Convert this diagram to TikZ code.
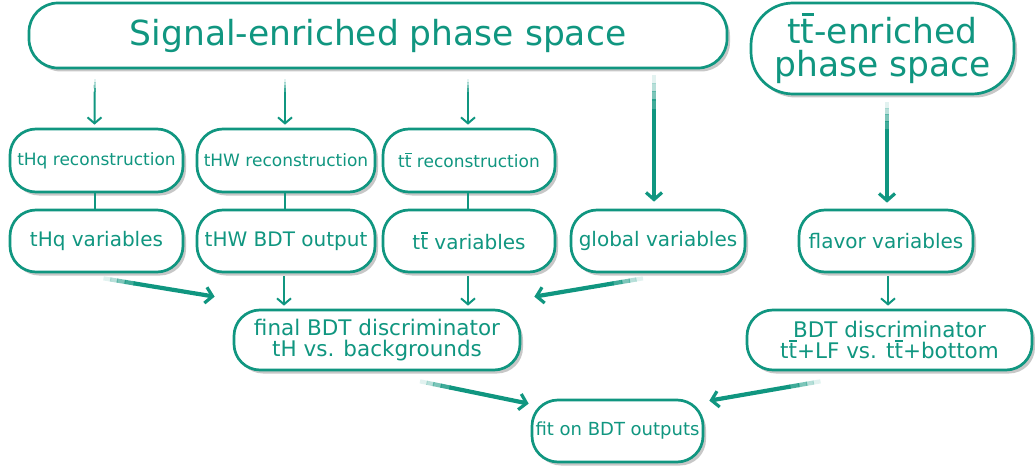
\documentclass[tikz,border=0pt]{standalone}
\usepackage{fontspec}
\setmainfont{DejaVu Sans}
\usetikzlibrary{shadows,calc,arrows.meta}
\definecolor{tc}{RGB}{16,150,128}
\newcommand{\tb}{\rlap{\hspace{0.03em}\rule[0.8em]{0.36em}{0.065em}}t}
\tikzset{
  box/.style={draw=tc, line width=2.7pt, fill=white, rounded corners=26pt, text=tc,
    align=center, inner sep=1pt,
    drop shadow={shadow xshift=3pt, shadow yshift=-3.5pt, opacity=0.4, fill=black!55}},
  fs/.style={font=\fontsize{#1}{#1}\selectfont},
  thin/.style={draw=tc, line width=2pt},
  thick/.style={draw=tc, line width=4.2pt},
  tipA/.style={-{Straight Barb[length=6pt,width=14pt,line width=2pt]}},
  tipB/.style={-{Straight Barb[length=7pt,width=16pt,line width=3.2pt]}},
}
\newcommand{\brushline}[4]{%
  \draw[#1, opacity=0.12] (#2) -- ($(#2)!0.07!(#3)$);
  \draw[#1, opacity=0.3] ($(#2)!0.06!(#3)$) -- ($(#2)!0.13!(#3)$);
  \draw[#1, opacity=0.55] ($(#2)!0.12!(#3)$) -- ($(#2)!0.2!(#3)$);
  \draw[#1, opacity=0.8] ($(#2)!0.19!(#3)$) -- ($(#2)!0.28!(#3)$);
  \draw[#1, #4] ($(#2)!0.27!(#3)$) -- (#3);}
\begin{document}
\begin{tikzpicture}[x=1pt,y=-1pt]
\useasboundingbox (0,0) rectangle (1035,468);
% nodes
\node[box, fs=34.5, rounded corners=29pt, minimum width=698pt, minimum height=65pt] (sig) at (378,35.5) {Signal-enriched phase space};
\node[box, font=\fontsize{34.5}{33}\selectfont, rounded corners=42pt, minimum width=263pt, minimum height=91pt] (tt) at (882.5,48.5) {t\tb-enriched\\phase space};
\node[box, fs=17, minimum width=173pt, minimum height=63pt] (r1a) at (96.5,160.5) {tHq reconstruction};
\node[box, fs=17, minimum width=178pt, minimum height=63pt] (r1b) at (286,160.5) {tHW reconstruction};
\node[box, fs=17, minimum width=172pt, minimum height=63pt] (r1c) at (469,160.5) {t\tb\ reconstruction};
\node[box, fs=20, minimum width=173pt, minimum height=62pt] (r2a) at (96.5,241) {tHq variables};
\node[box, fs=20, minimum width=178pt, minimum height=62pt] (r2b) at (286,241) {tHW BDT output};
\node[box, fs=20, minimum width=172pt, minimum height=62pt] (r2c) at (469,241) {t\tb\ variables};
\node[box, fs=20, minimum width=174pt, minimum height=62pt] (r2d) at (658,241) {global variables};
\node[box, fs=20, minimum width=174pt, minimum height=62pt] (r2e) at (886,241) {flavor variables};
\node[box, fs=21.5, minimum width=286pt, minimum height=60pt] (fin) at (377,340) {final BDT discriminator\\tH vs. backgrounds};
\node[box, fs=21.5, minimum width=285pt, minimum height=60pt] (bdt) at (889.5,340) {BDT discriminator\\t\tb+LF vs. t\tb+bottom};
\node[box, fs=18, minimum width=171pt, minimum height=62pt] (fit) at (617.5,431) {fit on BDT outputs};
% coordinates for connector ends
\coordinate (a1s) at ($(sig.south -| r1a.north)+(-2,10)$);
\coordinate (a1e) at ($(r1a.north)+(-2,-3)$);
\coordinate (a2s) at ($(sig.south -| r1b.north)+(-1,10)$);
\coordinate (a2e) at ($(r1b.north)+(-1,-3)$);
\coordinate (a3s) at ($(sig.south -| r1c.north)+(-1,10)$);
\coordinate (a3e) at ($(r1c.north)+(-1,-3)$);
\coordinate (a4s) at ($(sig.south -| r2d.north)+(-4,6)$);
\coordinate (a4e) at ($(r2d.north)+(-4,-7)$);
\coordinate (a5s) at ($(tt.south -| r2e.north)+(1,7)$);
\coordinate (a5e) at ($(r2e.north)+(1,-6)$);
\coordinate (b1s) at ($(r2b.south)+(-2,3)$);
\coordinate (b1e) at ($(r2b.south |- fin.north)+(-2,-3)$);
\coordinate (b2s) at ($(r2c.south)+(-1,3)$);
\coordinate (b2e) at ($(r2c.south |- fin.north)+(-1,-3)$);
\coordinate (b3s) at ($(r2e.south)+(2,3)$);
\coordinate (b3e) at ($(r2e.south |- bdt.north)+(2,-3)$);
\coordinate (d1s) at ($(r2a.south)+(7,5)$);
\coordinate (d1e) at ($(fin.north west)+(-18,-12)$);
\coordinate (d2s) at ($(r2d.south)+(-15,5)$);
\coordinate (d2e) at ($(fin.north east)+(13,-12)$);
\coordinate (d3s) at ($(fin.south)+(43,10)$);
\coordinate (d3e) at ($(fit.north west)+(-2,5)$);
\coordinate (d4s) at ($(bdt.south)+(-69,10)$);
\coordinate (d4e) at ($(fit.north east)+(5,2)$);
% vertical arrows from the top
\brushline{thin}{a1s}{a1e}{tipA}
\brushline{thin}{a2s}{a2e}{tipA}
\brushline{thin}{a3s}{a3e}{tipA}
\brushline{thick}{a4s}{a4e}{tipB}
\brushline{thick}{a5s}{a5e}{tipB}
% short links row 1 -> row 2
\draw[thin] ($(r1a.south)+(-2,0)$) -- ($(r2a.north)+(-2,0)$);
\draw[thin] ($(r1b.south)+(-1,0)$) -- ($(r2b.north)+(-1,0)$);
\draw[thin] ($(r1c.south)+(-1,0)$) -- ($(r2c.north)+(-1,0)$);
% row 2 -> discriminators
\draw[thin, tipA] (b1s) -- (b1e);
\draw[thin, tipA] (b2s) -- (b2e);
\draw[thin, tipA] (b3s) -- (b3e);
% diagonal thick arrows
\brushline{thick}{d1s}{d1e}{tipB}
\brushline{thick}{d2s}{d2e}{tipB}
\brushline{thick}{d3s}{d3e}{tipB}
\brushline{thick}{d4s}{d4e}{tipB}
\end{tikzpicture}
\end{document}
